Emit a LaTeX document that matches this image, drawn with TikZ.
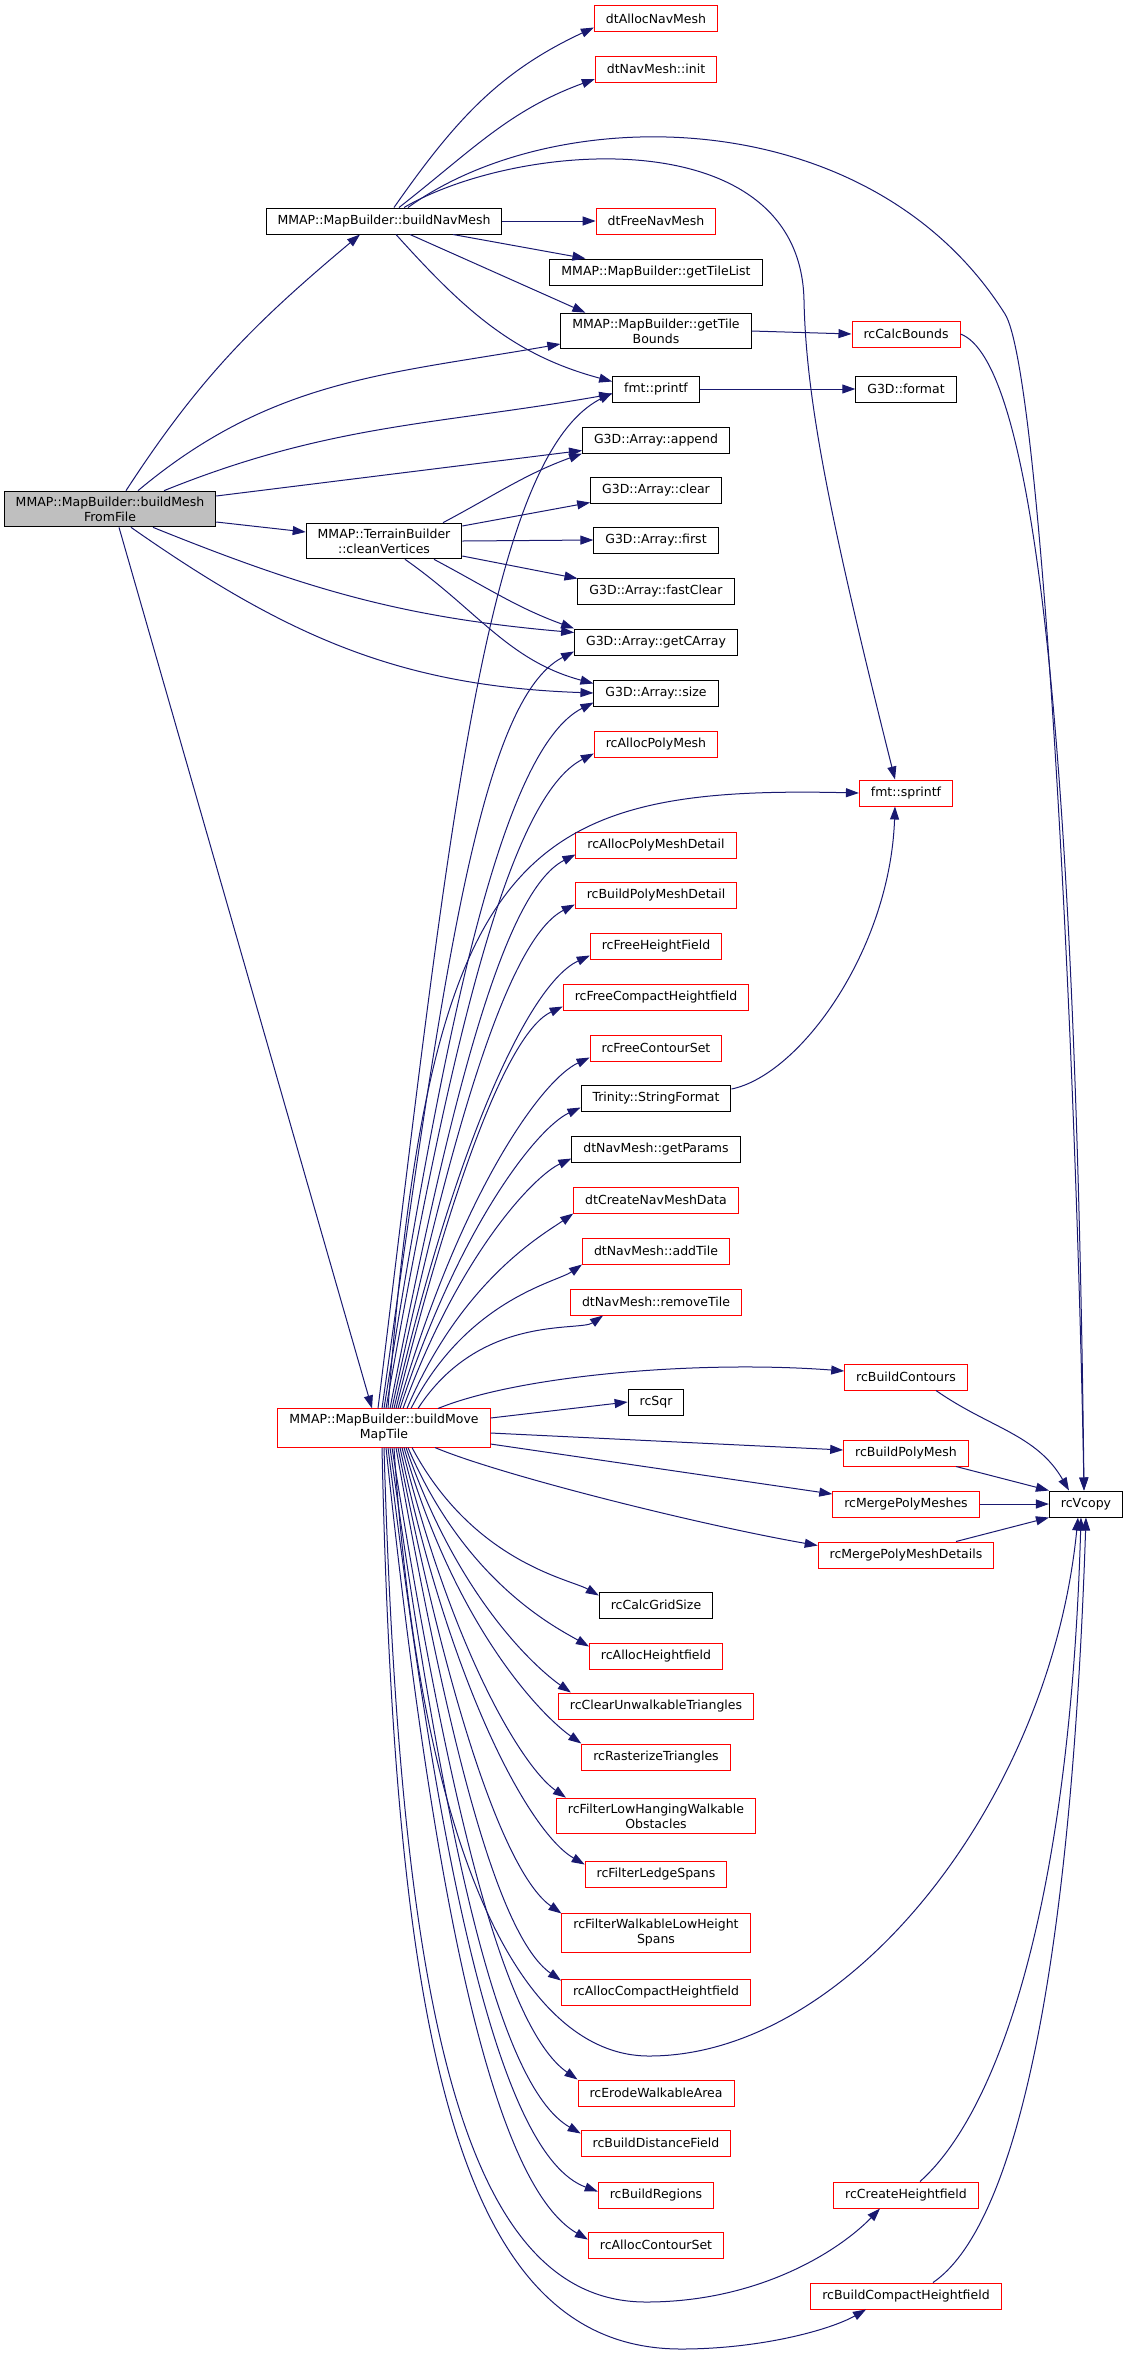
\documentclass[tikz,border=0pt]{standalone}
\usepackage{fontspec}
\setmainfont{DejaVu Sans}
\usepackage{tikz}
\usetikzlibrary{arrows.meta}
\definecolor{callblue}{HTML}{191970}
\definecolor{rootgray}{HTML}{BFBFBF}

\tikzset{
	func/.style = {draw = black, fill = white, line width = 1pt, inner xsep = 11.5pt, inner ysep = 5.5pt, minimum height = 26pt, align = center, font = \fontsize{12.5}{15}\selectfont},
	funcred/.style = {func, draw = red},
	root/.style = {func, fill = rootgray},
	call/.style = {draw = callblue, line width = 1pt, -{Triangle[length = 13pt, width = 9pt]}},
	fan/.style = {out looseness = 1.4, in looseness = 0.35}
}

\begin{document}
\begin{tikzpicture}[x = 1pt, y = 1pt]

	\useasboundingbox (0, 0) rectangle (1128, -2354);

	% callers
	\node[root] (bmf) at (110, -509) {MMAP::MapBuilder::buildMesh\\FromFile};
	\node[func] (bnm) at (384, -221) {MMAP::MapBuilder::buildNavMesh};
	\node[func] (cv) at (384, -541) {MMAP::TerrainBuilder\\::cleanVertices};
	\node[funcred] (bmmt) at (384, -1428) {MMAP::MapBuilder::buildMove\\MapTile};

	% middle column
	\node[funcred] (allocnav) at (656, -18.5) {dtAllocNavMesh};
	\node[funcred] (navinit) at (656, -69) {dtNavMesh::init};
	\node[funcred] (freenav) at (656, -221) {dtFreeNavMesh};
	\node[func] (tilelist) at (656, -272) {MMAP::MapBuilder::getTileList};
	\node[func] (tilebounds) at (656, -331) {MMAP::MapBuilder::getTile\\Bounds};
	\node[func] (printf) at (656, -389) {fmt::printf};
	\node[func] (append) at (656, -440) {G3D::Array::append};
	\node[func] (clear) at (656, -490) {G3D::Array::clear};
	\node[func] (first) at (656, -540) {G3D::Array::first};
	\node[func] (fastclear) at (656, -591) {G3D::Array::fastClear};
	\node[func] (carray) at (656, -642) {G3D::Array::getCArray};
	\node[func] (size) at (656, -693) {G3D::Array::size};
	\node[funcred] (allocpm) at (656, -744) {rcAllocPolyMesh};
	\node[funcred] (allocpmd) at (656, -845) {rcAllocPolyMeshDetail};
	\node[funcred] (buildpmd) at (656, -895) {rcBuildPolyMeshDetail};
	\node[funcred] (freehf) at (656, -946) {rcFreeHeightField};
	\node[funcred] (freechf) at (656, -997) {rcFreeCompactHeightfield};
	\node[funcred] (freecs) at (656, -1048) {rcFreeContourSet};
	\node[func] (strformat) at (656, -1098) {Trinity::StringFormat};
	\node[func] (getparams) at (656, -1149) {dtNavMesh::getParams};
	\node[funcred] (createnmd) at (656, -1200) {dtCreateNavMeshData};
	\node[funcred] (addtile) at (656, -1251) {dtNavMesh::addTile};
	\node[funcred] (removetile) at (656, -1302) {dtNavMesh::removeTile};
	\node[func] (rcsqr) at (656, -1402) {rcSqr};
	\node[func] (gridsize) at (656, -1605) {rcCalcGridSize};
	\node[funcred] (allochf) at (656, -1656) {rcAllocHeightfield};
	\node[funcred] (clearunw) at (656, -1706) {rcClearUnwalkableTriangles};
	\node[funcred] (raster) at (656, -1757) {rcRasterizeTriangles};
	\node[funcred] (lowhang) at (656, -1816) {rcFilterLowHangingWalkable\\Obstacles};
	\node[funcred] (ledge) at (656, -1874) {rcFilterLedgeSpans};
	\node[funcred] (lowheight) at (656, -1933) {rcFilterWalkableLowHeight\\Spans};
	\node[funcred] (allocchf) at (656, -1992) {rcAllocCompactHeightfield};
	\node[funcred] (erode) at (656, -2093) {rcErodeWalkableArea};
	\node[funcred] (distfield) at (656, -2143) {rcBuildDistanceField};
	\node[funcred] (regions) at (656, -2195) {rcBuildRegions};
	\node[funcred] (alloccs) at (656, -2245) {rcAllocContourSet};

	% right column
	\node[funcred] (calcbounds) at (906, -334) {rcCalcBounds};
	\node[func] (format) at (906, -389) {G3D::format};
	\node[funcred] (sprintf) at (906, -793) {fmt::sprintf};
	\node[funcred] (contours) at (906, -1377) {rcBuildContours};
	\node[funcred] (buildpm) at (906, -1453) {rcBuildPolyMesh};
	\node[funcred] (mergepm) at (906, -1504) {rcMergePolyMeshes};
	\node[funcred] (mergepmd) at (906, -1555) {rcMergePolyMeshDetails};
	\node[funcred] (createhf) at (906, -2195) {rcCreateHeightfield};
	\node[funcred] (buildchf) at (906, -2296) {rcBuildCompactHeightfield};
	\node[func] (vcopy) at (1086, -1504) {rcVcopy};

	% buildMeshFromFile
	\draw[call] ([xshift = 16pt]bmf.north) to[out = 57, in = 220] ([xshift = -24pt]bnm.south);
	\draw[call] ([xshift = 28pt]bmf.north) to[out = 40, in = 190] ([yshift = -13pt]tilebounds.west);
	\draw[call] ([xshift = 54pt]bmf.north) to[out = 22, in = 190] ([yshift = -5pt]printf.west);
	\draw[call] ([yshift = 13pt]bmf.east) -- ([yshift = 3pt]append.south west);
	\draw[call] ([yshift = -13pt]bmf.east) -- ([yshift = 9pt]cv.west);
	\draw[call] ([xshift = 43pt]bmf.south) to[out = -22, in = 175] ([yshift = -4pt]carray.north west);
	\draw[call] ([xshift = 21pt]bmf.south) to[out = -35, in = 178] (size.west);
	\draw[call] ([xshift = 9pt]bmf.south) -- ([xshift = -12pt]bmmt.north);

	% buildNavMesh
	\draw[call] ([xshift = 10pt]bnm.north) to[out = 55, in = 205] ([yshift = -9pt]allocnav.west);
	\draw[call] ([xshift = 15pt]bnm.north) to[out = 38, in = 200] ([yshift = -10pt]navinit.west);
	\draw[call] ([xshift = 20pt]bnm.north) .. controls (520, -140) and (800, -120) .. (804, -300) .. controls (806, -400) and (830, -520) .. ([xshift = -11pt]sprintf.north);
	\draw[call] ([xshift = 24pt]bnm.north) .. controls (556, -100) and (870, -100) .. (1005, -314) .. controls (1040, -370) and (1075, -1000) .. ([xshift = -2pt]vcopy.north);
	\draw[call] (bnm.east) -- (freenav.west);
	\draw[call] ([xshift = 69pt]bnm.south) -- ([xshift = 36pt]tilelist.north west);
	\draw[call] ([xshift = 26pt]bnm.south) -- ([xshift = 25pt]tilebounds.north west);
	\draw[call] ([xshift = 12pt]bnm.south) to[out = -48, in = 165] ([yshift = -6pt]printf.north west);

	% cleanVertices
	\draw[call] ([xshift = 59pt]cv.north) to[out = 28, in = 200] (append.south west);
	\draw[call] ([yshift = 15pt]cv.east) -- ([yshift = 1pt]clear.south west);
	\draw[call] (cv.east) -- (first.west);
	\draw[call] ([yshift = -15pt]cv.east) -- ([yshift = -1pt]fastclear.north west);
	\draw[call] ([xshift = 50pt]cv.south) to[out = -28, in = 160] (carray.north west);
	\draw[call] ([xshift = 21pt]cv.south) to[out = -35, in = 165] ([yshift = -4pt]size.north west);

	% right hand callees
	\draw[call] (tilebounds.east) -- (calcbounds.west);
	\draw[call] (printf.east) -- (format.west);
	\draw[call] (calcbounds.east) .. controls (1030, -360) and (1075, -700) .. ([xshift = -2pt]vcopy.north);
	\draw[call] ([yshift = 9pt]strformat.east) .. controls (800, -1075) and (890, -950) .. ([xshift = -11pt]sprintf.south);
	\draw[call] ([xshift = 30pt]contours.south) to[out = -35, in = 120] ([xshift = -17pt]vcopy.north);
	\draw[call] ([xshift = 50pt]buildpm.south) -- (vcopy.north west);
	\draw[call] (mergepm.east) -- (vcopy.west);
	\draw[call] ([xshift = 50pt]mergepmd.north) -- (vcopy.south west);
	\draw[call] ([xshift = 14pt]createhf.north) .. controls (1000, -2110) and (1070, -1900) .. ([xshift = -5pt]vcopy.south);
	\draw[call] ([xshift = 27pt]buildchf.north) .. controls (1010, -2230) and (1070, -2000) .. (vcopy.south);

	% buildMoveMapTile, upwards
	\draw[call] ([xshift = -6pt]bmmt.north) to[out = 83, in = 207, fan] ([yshift = -4pt]printf.west);
	\draw[call] ([xshift = -2pt]bmmt.north) to[out = 82, in = 207, fan] ([yshift = 4pt]carray.south west);
	\draw[call] (bmmt.north) to[out = 81, in = 207, fan] ([yshift = 4pt]size.south west);
	\draw[call] ([xshift = 2pt]bmmt.north) to[out = 80, in = 207, fan] ([yshift = 4pt]allocpm.south west);
	\draw[call] ([xshift = 4pt]bmmt.north) .. controls (430, -850) and (520, -785) .. (sprintf.west);
	\draw[call] ([xshift = 6pt]bmmt.north) to[out = 79, in = 207, fan] ([yshift = 4pt]allocpmd.south west);
	\draw[call] ([xshift = 8pt]bmmt.north) to[out = 78, in = 207, fan] ([yshift = 4pt]buildpmd.south west);
	\draw[call] ([xshift = 10pt]bmmt.north) to[out = 77, in = 205, fan] ([yshift = 4pt]freehf.south west);
	\draw[call] ([xshift = 12pt]bmmt.north) to[out = 76, in = 205, fan] ([yshift = 4pt]freechf.south west);
	\draw[call] ([xshift = 14pt]bmmt.north) to[out = 74, in = 205, fan] ([yshift = 4pt]freecs.south west);
	\draw[call] ([xshift = 16pt]bmmt.north) to[out = 72, in = 205, fan] ([yshift = 4pt]strformat.south west);
	\draw[call] ([xshift = 19pt]bmmt.north) to[out = 70, in = 205, fan] ([yshift = 4pt]getparams.south west);
	\draw[call] ([xshift = 23pt]bmmt.north) to[out = 67, in = 215, fan] (createnmd.south west);
	\draw[call] ([xshift = 27pt]bmmt.north) to[out = 63, in = 215, fan] (addtile.south west);
	\draw[call] ([xshift = 34pt]bmmt.north) to[out = 57, in = 215, fan] ([xshift = 33pt]removetile.south west);
	\draw[call] ([xshift = 54pt]bmmt.north) .. controls (520, -1375) and (700, -1360) .. ([yshift = 6pt]contours.west);
	\draw[call] ([yshift = 10pt]bmmt.east) -- (rcsqr.west);
	\draw[call] ([yshift = -5pt]bmmt.east) -- ([yshift = 3pt]buildpm.west);
	\draw[call] ([yshift = -16pt]bmmt.east) -- ([yshift = 10pt]mergepm.west);

	% buildMoveMapTile, downwards
	\draw[call] ([xshift = 51pt]bmmt.south) .. controls (500, -1475) and (700, -1525) .. ([yshift = -4pt]mergepmd.north west);
	\draw[call] ([xshift = 28pt]bmmt.south) to[out = -62, in = 150, fan] ([yshift = -4pt]gridsize.north west);
	\draw[call] ([xshift = 24pt]bmmt.south) to[out = -67, in = 150, fan] ([yshift = -4pt]allochf.north west);
	\draw[call] ([xshift = 22pt]bmmt.south) to[out = -71, in = 145, fan] ([xshift = 13pt]clearunw.north west);
	\draw[call] ([xshift = 20pt]bmmt.south) to[out = -74, in = 145, fan] (raster.north west);
	\draw[call] ([xshift = 18pt]bmmt.south) to[out = -76, in = 145, fan] ([xshift = 10pt]lowhang.north west);
	\draw[call] ([xshift = 16pt]bmmt.south) to[out = -78, in = 150, fan] ([yshift = -4pt]ledge.north west);
	\draw[call] ([xshift = 14pt]bmmt.south) to[out = -79, in = 145, fan] (lowheight.north west);
	\draw[call] ([xshift = 12pt]bmmt.south) to[out = -80, in = 145, fan] ([yshift = -2pt]allocchf.north west);
	\draw[call] ([xshift = 10pt]bmmt.south) .. controls (420, -1850) and (520, -2056) .. (649, -2056) .. controls (850, -2056) and (1050, -1800) .. ([xshift = -8pt]vcopy.south);
	\draw[call] ([xshift = 8pt]bmmt.south) to[out = -81, in = 145, fan] (erode.north west);
	\draw[call] ([xshift = 6pt]bmmt.south) to[out = -82, in = 150, fan] ([yshift = -4pt]distfield.north west);
	\draw[call] ([xshift = 4pt]bmmt.south) to[out = -83, in = 160, fan] ([yshift = -10pt]regions.north west);
	\draw[call] ([xshift = 2pt]bmmt.south) to[out = -84, in = 150, fan] ([yshift = -8pt]alloccs.north west);
	\draw[call] (bmmt.south) .. controls (400, -2000) and (460, -2302) .. (646, -2302) .. controls (760, -2302) and (840, -2250) .. ([xshift = -26pt]createhf.south);
	\draw[call] ([xshift = -2pt]bmmt.south) .. controls (395, -2050) and (460, -2349) .. (681, -2349) .. controls (760, -2349) and (830, -2330) .. ([xshift = -40pt]buildchf.south);

\end{tikzpicture}
\end{document}
